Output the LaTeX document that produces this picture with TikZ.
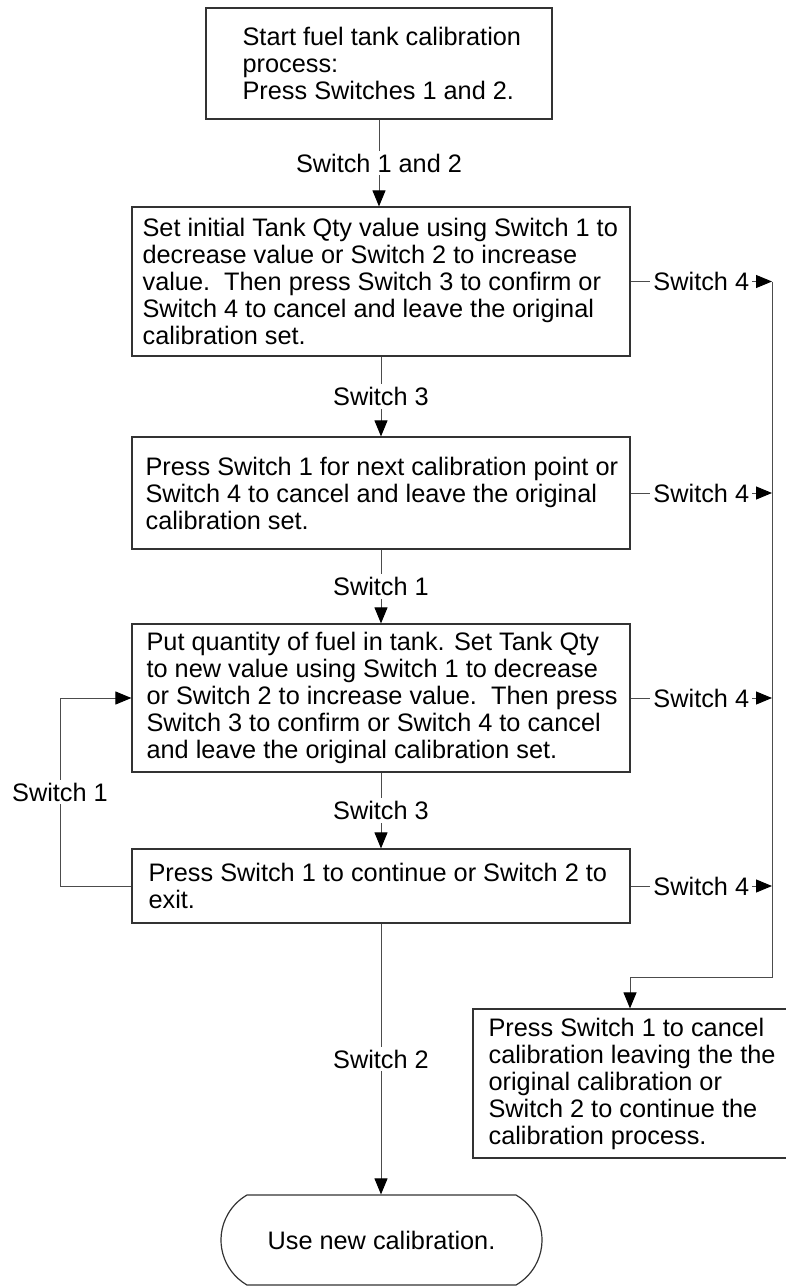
\documentclass[tikz,border=0pt]{standalone}
\usepackage{fontspec}
\setmainfont{Liberation Sans}
\usetikzlibrary{arrows.meta,shapes.misc}
\begin{document}
\begin{tikzpicture}[x=1pt,y=-1pt,
  every node/.style={font=\fontsize{25.3}{27}\selectfont},
  box/.style={draw=black!80, line width=1.2pt, rectangle, inner sep=0pt},
  term/.style={draw=black!80, line width=1.2pt, rounded rectangle, rounded rectangle arc length=120, inner sep=0pt},
  txt/.style={align=left, inner sep=0pt, anchor=west},
  lbl/.style={fill=white, inner sep=3pt},
  conn/.style={draw=black!70, line width=1pt},
  arr/.style={conn, -{Triangle[length=16pt,width=13pt,color=black]}}]
\useasboundingbox (0,0) rectangle (785,1288);

\node[box, minimum width=346pt, minimum height=111pt] (b1) at (379,63.5) {};
\node[txt] (t1) at ([xshift=37pt]b1.west) {Start fuel tank calibration\\process:\\Press Switches 1 and 2.};

\node[box, minimum width=498pt, minimum height=149pt] (b2) at (381,281.5) {};
\node[txt] (t2) at ([xshift=11pt]b2.west) {Set initial Tank Qty value using Switch 1 to\\decrease value or Switch 2 to increase\\value.\ \ Then press Switch 3 to confirm or\\Switch 4 to cancel and leave the original\\calibration set.};

\node[box, minimum width=498pt, minimum height=112pt] (b3) at (381,493) {};
\node[txt] (t3) at ([xshift=14pt]b3.west) {Press Switch 1 for next calibration point or\\Switch 4 to cancel and leave the original\\calibration set.};

\node[box, minimum width=498pt, minimum height=148pt] (b4) at (381,698) {};
\node[txt] (t4) at ([xshift=15pt]b4.west) {Put quantity of fuel in tank. Set Tank Qty\\to new value using Switch 1 to decrease\\or Switch 2 to increase value.\ \ Then press\\Switch 3 to confirm or Switch 4 to cancel\\and leave the original calibration set.};

\node[box, minimum width=498pt, minimum height=74pt] (b5) at (381,886) {};
\node[txt] (t5) at ([xshift=17pt]b5.west) {Press Switch 1 to continue or Switch 2 to\\exit.};

\node[box, minimum width=330pt, minimum height=149pt] (b6) at (638,1083.5) {};
\node[txt] (t6) at ([xshift=16pt]b6.west) {Press Switch 1 to cancel\\calibration leaving the the\\original calibration or\\Switch 2 to continue the\\calibration process.};

\node[term, minimum width=321pt, minimum height=90pt] (t) at (381.5,1240) {Use new calibration.};

% main chain
\draw[arr] (b1.south) -- node[lbl] (l1) {Switch 1 and 2} (b1.south |- b2.north);
\draw[arr] (b2.south) -- node[lbl] (l2) {Switch 3} (b3.north);
\draw[arr] (b3.south) -- node[lbl] (l3) {Switch 1} (b4.north);
\draw[arr] (b4.south) -- node[lbl] (l4) {Switch 3} (b5.north);
\draw[arr] (b5.south) -- node[lbl] (l5) {Switch 2} (b5.south |- t.north);

% loop back
\coordinate (lx) at (60,0);
\draw[arr] (b5.west) -- (b5.west -| lx) -- node[lbl] (l6) {Switch 1} (b4.west -| lx) -- (b4.west);

% cancel branch
\coordinate (rx) at (772,0);
\coordinate (c1) at (772,977);
\coordinate (c2) at (630,977);
\draw[arr] (b2.east) -- node[lbl] (s1) {Switch 4} (b2.east -| rx);
\draw[arr] (b3.east) -- node[lbl] (s2) {Switch 4} (b3.east -| rx);
\draw[arr] (b4.east) -- node[lbl] (s3) {Switch 4} (b4.east -| rx);
\draw[arr] (b5.east) -- node[lbl] (s4) {Switch 4} (b5.east -| rx);
\draw[arr] (b2.east -| rx) -- (c1) -- (c2) -- (c2 |- b6.north);
\end{tikzpicture}
\end{document}
